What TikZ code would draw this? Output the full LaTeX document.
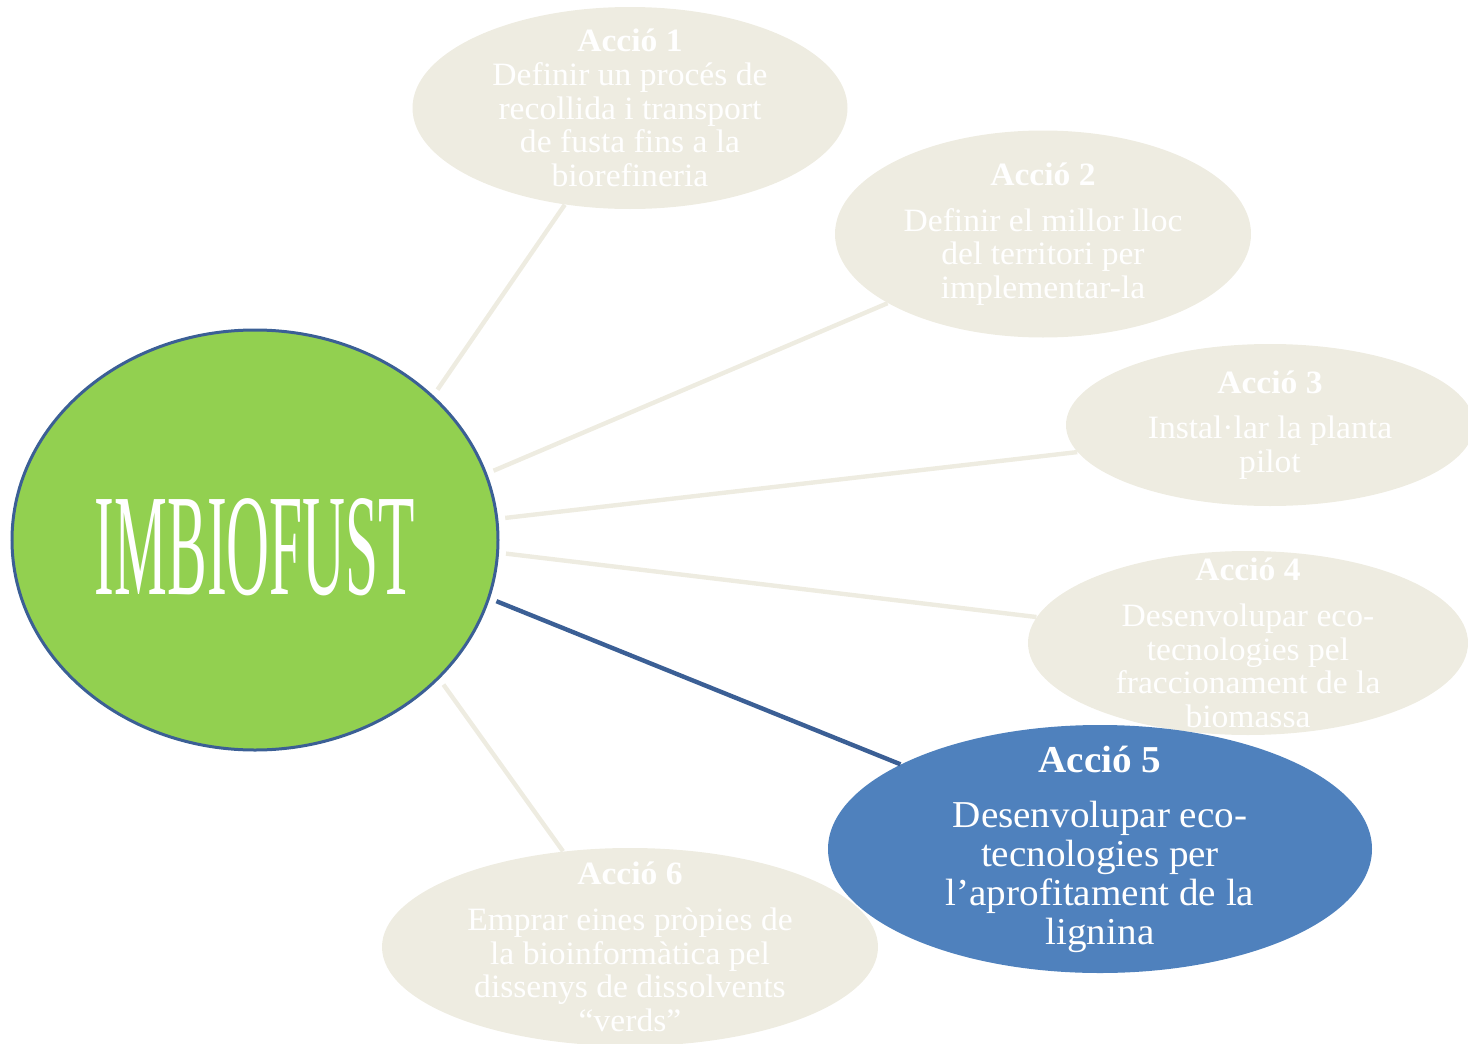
\documentclass[tikz,border=0pt]{standalone}
\usepackage{fontspec}
\setmainfont{Liberation Serif}[FakeStretch=1.03]
\usepackage{graphicx}
\usepackage{xcolor}
\usetikzlibrary{shapes.geometric}
\definecolor{beige}{HTML}{EEECE1}
\definecolor{paleblue}{HTML}{4F81BD}
\definecolor{deepblue}{HTML}{3B5F95}
\definecolor{leaf}{HTML}{92D050}

\begin{document}
\begin{tikzpicture}[x=0.5pt,y=-0.5pt,
	bubble/.style={ellipse,fill=beige,inner sep=0pt},
	bubbletext/.style={text=white,align=center,font=\fontsize{16.3}{16.8}\selectfont},
	spoke/.style={line width=2.2pt,beige,shorten <=3.5pt}]
	
	\useasboundingbox (0,0) rectangle (1468,1044);
	
	\coordinate (C) at (255,540);  % the project, centre
	
	\coordinate (A1) at (630,108);
	\coordinate (A2) at (1043,234);
	\coordinate (A3) at (1270,425);
	\coordinate (A4) at (1248,643);
	\coordinate (A5) at (1100,849);
	\coordinate (A6) at (630,947);
	
	\node[ellipse,fill=leaf,draw=deepblue,line width=1.5pt,
		minimum width=243pt,minimum height=210pt,inner sep=0pt] (c) at (C) {};
	\node[white] (title) at ([yshift=-3.5pt]C)
		{\resizebox{160pt}{48pt}{IMBIOFUST}};
	
	\node[bubble,minimum width=217.5pt,minimum height=101pt] (a1) at (A1) {};
	\node[bubble,minimum width=208pt,minimum height=103.5pt] (a2) at (A2) {};
	\node[bubble,minimum width=204pt,minimum height=81pt] (a3) at (A3) {};
	\node[bubble,minimum width=220pt,minimum height=92pt] (a4) at (A4) {};
	\node[bubble,minimum width=248pt,minimum height=99pt] (a6) at (A6) {};
	\node[ellipse,fill=paleblue,inner sep=0pt,
		minimum width=272pt,minimum height=124pt] (a5) at (A5) {};
	
	\draw[spoke] (c.39) -- (a1.-124);
	\draw[spoke] (c.16) -- (a2.-156);
	\draw[spoke] (c.5.5) -- (a3.-172);
	\draw[spoke] (c.-3.7) -- (a4.173);
	\draw[spoke] (c.-37.5) -- (a6.125.5);
	\draw[spoke,deepblue] (c.-14.2) -- (a5.157.7);
	
	\node[bubbletext] (t1) at (A1) {\textbf{Acció 1}\\ Definir un procés de\\
		recollida i transport\\ de fusta fins a la\\ biorefineria};
	\node[bubbletext] (t2) at (A2) {\textbf{Acció 2}\\[6pt] Definir el millor lloc\\
		del territori per\\ implementar-la};
	\node[bubbletext] (t3) at (A3) {\textbf{Acció 3}\\[6pt] Instal·lar la planta\\ pilot};
	\node[bubbletext] (t4) at (A4) {\textbf{Acció 4}\\[6pt] Desenvolupar eco-\\
		tecnologies pel\\ fraccionament de la\\ biomassa};
	\node[bubbletext,font=\fontsize{19}{19.5}\selectfont] (t5) at (A5)
		{\textbf{Acció 5}\\[8pt] Desenvolupar eco-\\ tecnologies per\\
		l’aprofitament de la\\ lignina};
	\node[bubbletext] (t6) at (A6) {\textbf{Acció 6}\\[6pt] Emprar eines pròpies de\\
		la bioinformàtica pel\\ dissenys de dissolvents\\ “verds”};
	
\end{tikzpicture}
\end{document}
